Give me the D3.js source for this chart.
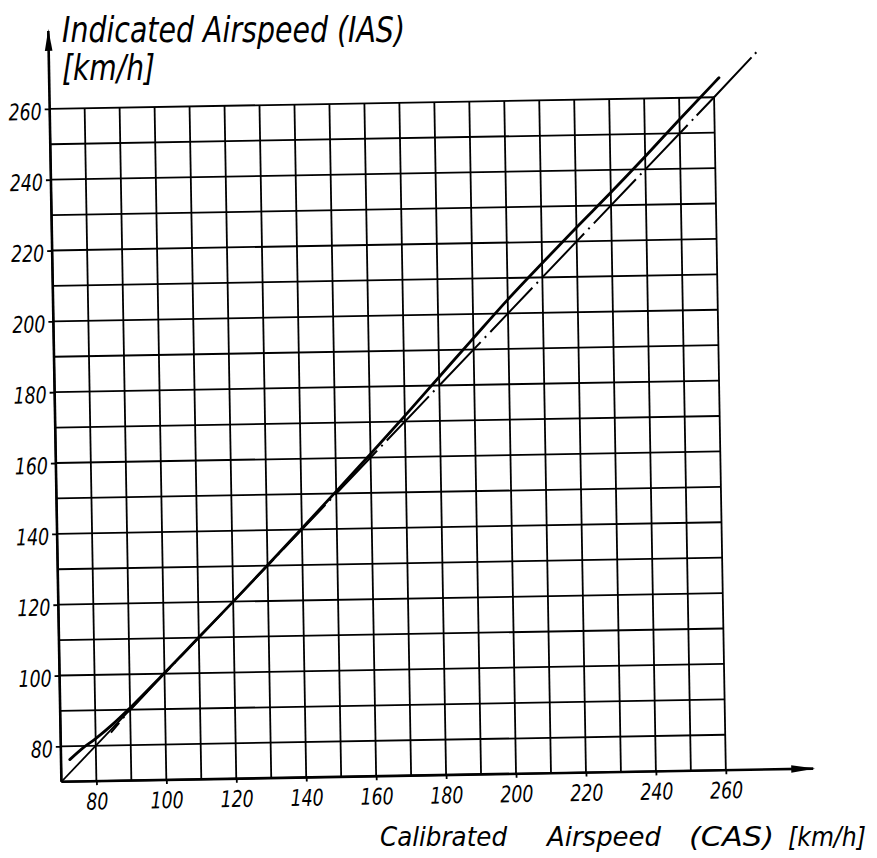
<!DOCTYPE html>
<html><head><meta charset="utf-8">
<script src="https://cdn.jsdelivr.net/npm/d3@7"></script>
<style>body{margin:0;background:#fff} svg{display:block}</style>
</head><body><svg id="c" width="877" height="858"></svg>
<script>
// ---- data ----
const gridCAS = [70,80,90,100,110,120,130,140,150,160,170,180,190,200,210,220,230,240,250,260];
const gridIAS = [70,80,90,100,110,120,130,140,150,160,170,180,190,200,210,220,230,240,250,260];
const casTickLabels = [80,100,120,140,160,180,200,220,240,260];
const iasTickLabels = [80,100,120,140,160,180,200,220,240,260];

// thick solid calibration curve (CAS -> IAS)
const solidCAS = [72.5, 76, 80, 85, 90, 100, 110, 120, 130, 140, 150, 160, 170, 180, 190, 200, 210, 220, 230, 240, 250, 260, 261.5];
const solidIAS = [76.2, 79.2, 82.0, 86.0, 90.5, 100.2, 110.1, 120.0, 130.1, 140.3, 150.6, 161.0, 171.6, 182.4, 193.2, 203.9, 214.0, 223.9, 233.6, 243.6, 253.9, 264.0, 265.5];

// dash-dot curve
const dashCAS = [84.4, 86.5, 89, 100, 120, 140, 160, 180, 200, 220, 240, 260, 272.3];
const dashIAS = [83.6, 86.0, 88.9, 100, 120, 140, 160, 180, 200, 220, 240, 260, 272.5];

// thin reference segment (IAS = CAS) at the low end
const refCAS = [70, 95];
const refIAS = [70, 95];

const yTitleLines = ["Indicated Airspeed (IAS)", "[km/h]"];
const xTitleWords = ["Calibrated", "Airspeed", "(CAS)", "[km/h]"];

// ---- drawing ----
const svg = d3.select("#c");
svg.append("rect").attr("width",877).attr("height",858).attr("fill","#fff");

const x = d3.scaleLinear().domain([70,260]).range([55.5,720]);
const y = d3.scaleLinear().domain([70,260]).range([776,103]);

const g = svg.append("g").attr("transform","rotate(-1,387.75,439.5)");

// grid
g.append("g").selectAll("line").data(gridCAS).join("line")
  .attr("x1",d=>x(d)).attr("x2",d=>x(d)).attr("y1",y(70)).attr("y2",y(260))
  .attr("stroke","#000").attr("stroke-width",1.8);
g.append("g").selectAll("line").data(gridIAS).join("line")
  .attr("y1",d=>y(d)).attr("y2",d=>y(d)).attr("x1",x(70)).attr("x2",x(260))
  .attr("stroke","#000").attr("stroke-width",1.8);

// axis lines with arrows
g.append("line").attr("x1",x(70)).attr("x2",x(70)).attr("y1",y(70)).attr("y2",y(282))
  .attr("stroke","#000").attr("stroke-width",2.6);
g.append("path")
  .attr("d",`M${x(70)},${y(282)-2} L${x(70)-3.8},${y(282)+20} L${x(70)+3.8},${y(282)+20} Z`)
  .attr("fill","#000");
g.append("line").attr("x1",x(70)).attr("x2",x(285)).attr("y1",y(70)).attr("y2",y(70))
  .attr("stroke","#000").attr("stroke-width",2.6);
g.append("path")
  .attr("d",`M${x(285)+2},${y(70)} L${x(285)-22},${y(70)-3.8} L${x(285)-22},${y(70)+3.8} Z`)
  .attr("fill","#000");

const tickFont = "'DejaVu Sans', sans-serif";
// y axis labels
const ya = g.append("g").attr("transform",`translate(${x(70)},0)`)
  .call(d3.axisLeft(y).tickValues(iasTickLabels).tickSize(5).tickPadding(3));
ya.select(".domain").remove();
ya.selectAll(".tick line").attr("stroke","#000").attr("stroke-width",1.8);
ya.selectAll(".tick text")
  .attr("font-family",tickFont).attr("font-style","italic").attr("font-size",23)
  .attr("fill","#000").attr("dy","0.45em")
  .attr("textLength",d=>String(d).length*11).attr("lengthAdjust","spacingAndGlyphs");

// x axis labels
const xa = g.append("g").attr("transform",`translate(0,${y(70)})`)
  .call(d3.axisBottom(x).tickValues(casTickLabels).tickSize(4).tickPadding(8));
xa.select(".domain").remove();
xa.selectAll(".tick line").attr("stroke","#000").attr("stroke-width",1.8);
xa.selectAll(".tick text")
  .attr("font-family",tickFont).attr("font-style","italic").attr("font-size",23)
  .attr("fill","#000")
  .attr("textLength",d=>String(d).length*11).attr("lengthAdjust","spacingAndGlyphs");

// curves
const lineGen = d3.line().x(d=>x(d[0])).y(d=>y(d[1])).curve(d3.curveMonotoneX);

g.append("path").datum(refCAS.map((c,i)=>[c,refIAS[i]]))
  .attr("d",lineGen).attr("fill","none").attr("stroke","#000").attr("stroke-width",1.8);

const dashPts = dashCAS.map((c,i)=>[c,dashIAS[i]]).reverse();
let pattern = [2,5,80,5];
for (let k=0;k<20;k++) pattern = pattern.concat([2,6,61,6]);
g.append("path").datum(dashPts)
  .attr("d",d3.line().x(d=>x(d[0])).y(d=>y(d[1])).curve(d3.curveLinear))
  .attr("fill","none").attr("stroke","#000").attr("stroke-width",2)
  .attr("stroke-dasharray",pattern.join(","));

g.append("path").datum(solidCAS.map((c,i)=>[c,solidIAS[i]]))
  .attr("d",lineGen).attr("fill","none").attr("stroke","#000").attr("stroke-width",2.8)
  .attr("stroke-linecap","round");

// titles
const titleFont = "'DejaVu Sans', sans-serif";
svg.append("text").attr("x",62).attr("y",42).text(yTitleLines[0])
  .attr("font-family",titleFont).attr("font-style","italic").attr("font-size",35)
  .attr("textLength",343).attr("lengthAdjust","spacingAndGlyphs").attr("fill","#000");
svg.append("text").attr("x",62).attr("y",80).text(yTitleLines[1])
  .attr("font-family",titleFont).attr("font-style","italic").attr("font-size",35)
  .attr("textLength",93).attr("lengthAdjust","spacingAndGlyphs").attr("fill","#000");

const xWordX = [380, 547, 689, 788];
const xWordLen = [127, 114, 85, 78];
const xt = svg.append("text").attr("y",846)
  .attr("font-family",titleFont).attr("font-style","italic").attr("font-size",27).attr("fill","#000");
xt.selectAll("tspan").data(xTitleWords).join("tspan")
  .attr("x",(d,i)=>xWordX[i]).attr("textLength",(d,i)=>xWordLen[i])
  .attr("lengthAdjust","spacingAndGlyphs").text(d=>d);
</script></body></html>
